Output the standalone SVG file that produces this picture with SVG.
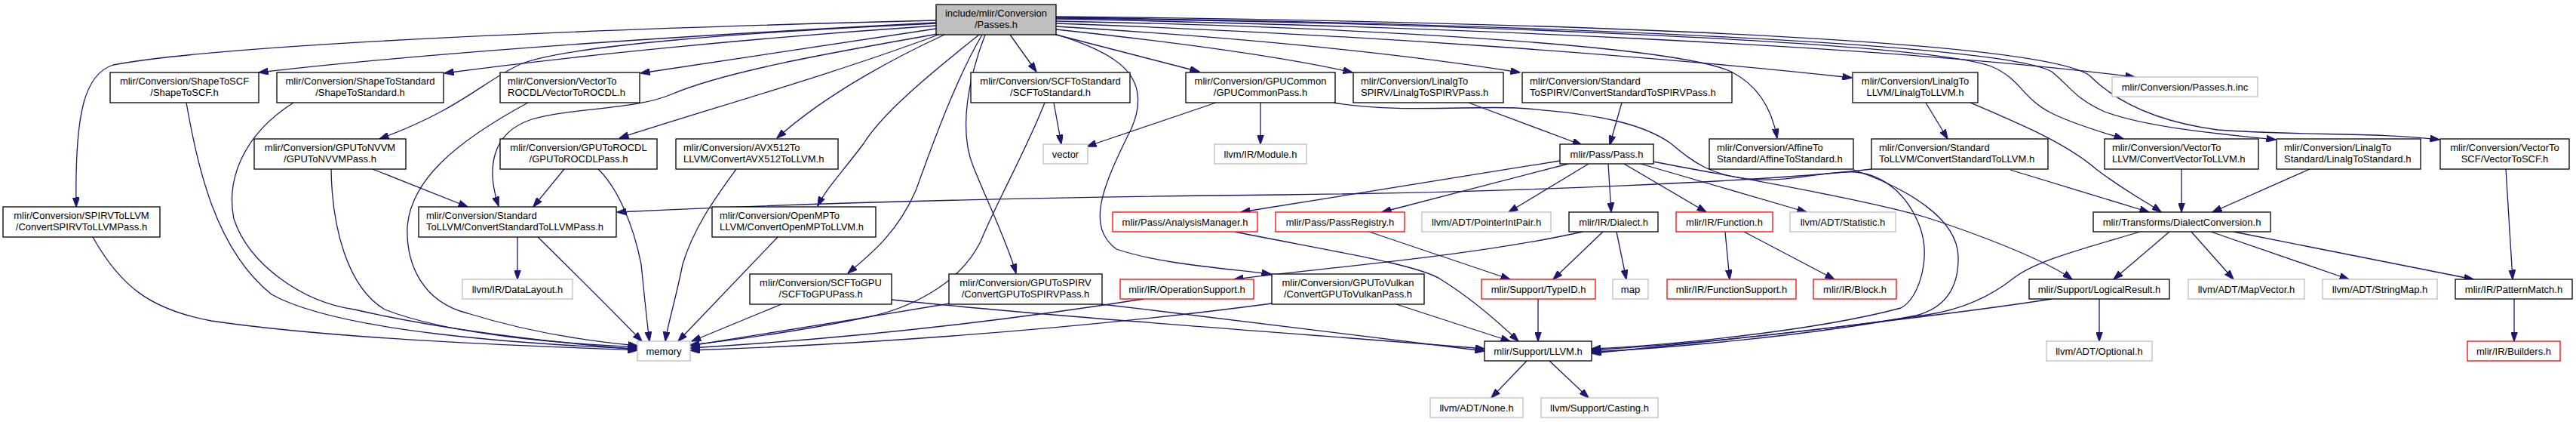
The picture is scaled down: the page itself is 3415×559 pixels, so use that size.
<svg xmlns="http://www.w3.org/2000/svg" width="3415" height="559" viewBox="0 0 3415 559">
<style>
text{font-family:"Liberation Sans",Arial,Helvetica,sans-serif;font-size:13px;fill:#000}
.node rect{fill:#fff;stroke:#000;stroke-width:1.3}
.node.g rect{stroke:#bfbfbf}
.node.r rect{stroke:#ff0000}
.node.top rect{fill:#bfbfbf}
.c text{text-anchor:middle}
#edges path{fill:none;stroke:#191970;stroke-width:1.3;marker-end:url(#ah)}
</style>
<defs>
<marker id="ah" viewBox="0 0 13 9" refX="12.5" refY="4.5" markerWidth="13" markerHeight="9" markerUnits="userSpaceOnUse" orient="auto">
<path d="M0,0 L13,4.5 L0,9 z" fill="#191970" stroke="#191970" stroke-width="1"/>
</marker>
</defs>
<rect width="3415" height="559" fill="#fff"/>
<g id="edges">
<path d="M1241,27 C800,38 300,58 150,86 C112,98 99,150 101,274"/>
<path d="M1241,30 C950,45 600,66 343,96"/>
<path d="M1241,34 C1000,50 760,74 589,97"/>
<path d="M1241,31 C1000,42 750,60 690,85 C640,108 610,145 503,184"/>
<path d="M1241,38 C1100,58 960,80 849,97"/>
<path d="M1243,45 C1100,70 960,95 890,125 C840,146 760,142 705,158 C650,176 645,225 661,273"/>
<path d="M1244,46 C1100,100 920,150 821,183"/>
<path d="M1252,46 C1200,70 1100,120 1030,183"/>
<path d="M1298,46 C1230,100 1170,150 1145,190 C1115,230 1095,250 1084,273"/>
<path d="M1302,46 C1270,100 1240,180 1215,250 C1190,310 1150,340 1124,362"/>
<path d="M1306,46 C1285,100 1270,170 1290,220 C1310,270 1335,320 1347,362"/>
<path d="M1339,46 L1374,95"/>
<path d="M1398,45 C1480,70 1530,100 1500,170 C1460,250 1440,300 1480,330 C1540,350 1620,355 1685,363"/>
<path d="M1400,46 L1590,95"/>
<path d="M1400,39 C1550,55 1700,75 1793,96"/>
<path d="M1400,35 C1650,50 1850,70 2015,96"/>
<path d="M1400,28 C1800,36 2220,60 2295,95 C2335,115 2350,150 2356,183"/>
<path d="M1400,31 C1800,45 2200,75 2455,103"/>
<path d="M1400,25 C1900,35 2500,60 2830,102"/>
<path d="M1400,24 C1900,30 2550,55 2640,88 C2680,105 2680,130 2720,150 C2750,165 2790,176 2815,184"/>
<path d="M1400,23 C1950,30 2650,55 2720,95 C2745,115 2750,130 2790,148 C2850,170 2950,178 3017,185"/>
<path d="M1400,22 C2000,28 2700,50 2770,100 C2800,130 2850,160 2940,172 C3050,180 3150,175 3234,185"/>
<path d="M247,136 C262,220 285,330 360,390 C450,440 700,456 845,462"/>
<path d="M389,136 C320,180 300,240 310,290 C330,350 400,400 470,410 C600,440 750,455 845,463"/>
<path d="M439,224 C440,300 460,380 510,410 C600,445 750,455 845,460"/>
<path d="M494,224 L620,274"/>
<path d="M700,136 C600,190 545,240 540,300 C538,350 560,400 620,415 C700,440 780,452 845,458"/>
<path d="M748,224 L707,274"/>
<path d="M793,224 C820,250 840,300 850,350 C855,400 858,430 861,452"/>
<path d="M976,224 C950,260 920,300 905,350 C895,400 885,430 882,452"/>
<path d="M1031,314 L899,452"/>
<path d="M123,314 C160,380 200,410 280,425 C450,450 700,458 845,464"/>
<path d="M686,314 L686,370"/>
<path d="M713,314 C770,370 820,420 851,452"/>
<path d="M1397,136 L1407,191"/>
<path d="M1385,136 C1360,200 1320,270 1300,320 C1270,380 1200,410 1150,420 C1080,435 980,450 915,457"/>
<path d="M1612,136 L1441,194"/>
<path d="M1671,136 L1671,191"/>
<path d="M1768,136 C1850,150 1950,140 2010,143 C2120,150 2180,165 2215,190 C2245,215 2270,235 2330,238 C2380,240 2420,226 2460,228 C2500,232 2530,260 2545,300 C2560,340 2545,395 2520,408 C2400,440 2200,458 2110,462"/>
<path d="M1036,403 L917,452"/>
<path d="M1182,397 C1400,420 1700,440 1968,462"/>
<path d="M1259,402 C1150,420 1000,445 915,458"/>
<path d="M1460,403 C1650,425 1850,450 1968,465"/>
<path d="M1516,396 C1300,430 1100,450 915,461"/>
<path d="M1686,402 C1400,440 1100,458 915,464"/>
<path d="M1851,403 L2002,452"/>
<path d="M1637,307 C1750,330 1880,350 1910,370 C1950,395 1990,430 2013,452"/>
<path d="M2068,213 C1900,240 1750,265 1645,281"/>
<path d="M2079,217 L1832,281"/>
<path d="M2106,217 L2000,281"/>
<path d="M2132,217 L2136,281"/>
<path d="M2153,217 L2262,281"/>
<path d="M2175,217 L2395,281"/>
<path d="M2191,214 C2300,235 2480,265 2560,290 C2650,320 2720,350 2747,370"/>
<path d="M1815,307 L2002,370"/>
<path d="M2125,307 L2059,370"/>
<path d="M2143,307 L2156,370"/>
<path d="M2098,307 C1950,340 1750,355 1636,370"/>
<path d="M2287,307 L2293,370"/>
<path d="M2312,307 L2432,370"/>
<path d="M2039,396 L2039,452"/>
<path d="M1947,136 L2097,192"/>
<path d="M2150,136 L2134,192"/>
<path d="M2457,225 C2530,250 2595,290 2596,340 C2597,390 2570,410 2540,418 C2400,445 2200,462 2110,466"/>
<path d="M2553,136 L2582,184"/>
<path d="M2612,136 C2680,165 2740,190 2780,225 C2820,255 2850,270 2865,281"/>
<path d="M2481,224 C2350,240 2000,255 1700,258 C1300,262 1000,272 818,281"/>
<path d="M2665,225 L2849,281"/>
<path d="M2892,224 L2892,281"/>
<path d="M3062,224 L2933,281"/>
<path d="M3322,224 L3331,370"/>
<path d="M2876,307 L2802,370"/>
<path d="M2905,307 L2961,370"/>
<path d="M2931,307 L3114,370"/>
<path d="M2961,307 L3279,370"/>
<path d="M2837,307 C2760,330 2700,345 2670,368 C2640,392 2600,410 2555,417 C2400,440 2250,455 2110,464"/>
<path d="M2783,396 L2783,452"/>
<path d="M2720,396 C2600,415 2300,450 2110,468"/>
<path d="M3333,396 L3333,452"/>
<path d="M2024,478 L1977,527"/>
<path d="M2054,478 L2106,527"/>
</g>
<g id="n_passes" class="node top c"><rect x="1241" y="6" width="159" height="40"/><text x="1320.5" y="22">include/mlir/Conversion</text><text x="1320.5" y="37">/Passes.h</text></g>
<g id="n_shapetoscf" class="node c"><rect x="146" y="96" width="197" height="40"/><text x="244.5" y="112">mlir/Conversion/ShapeToSCF</text><text x="244.5" y="127">/ShapeToSCF.h</text></g>
<g id="n_shapetostd" class="node c"><rect x="367" y="96" width="221" height="40"/><text x="477.5" y="112">mlir/Conversion/ShapeToStandard</text><text x="477.5" y="127">/ShapeToStandard.h</text></g>
<g id="n_vectorocdl" class="node"><rect x="663" y="96" width="185" height="40"/><text x="673" y="112">mlir/Conversion/VectorTo</text><text x="673" y="127">ROCDL/VectorToROCDL.h</text></g>
<g id="n_scftostd" class="node c"><rect x="1287" y="96" width="211" height="40"/><text x="1392.5" y="112">mlir/Conversion/SCFToStandard</text><text x="1392.5" y="127">/SCFToStandard.h</text></g>
<g id="n_gpucommon" class="node c"><rect x="1572" y="96" width="198" height="40"/><text x="1671" y="112">mlir/Conversion/GPUCommon</text><text x="1671" y="127">/GPUCommonPass.h</text></g>
<g id="n_linalgspirv" class="node"><rect x="1794" y="96" width="199" height="40"/><text x="1804" y="112">mlir/Conversion/LinalgTo</text><text x="1804" y="127">SPIRV/LinalgToSPIRVPass.h</text></g>
<g id="n_stdspirv" class="node"><rect x="2018" y="96" width="278" height="40"/><text x="2028" y="112">mlir/Conversion/Standard</text><text x="2028" y="127">ToSPIRV/ConvertStandardToSPIRVPass.h</text></g>
<g id="n_linalgllvm" class="node c"><rect x="2456" y="96" width="166" height="40"/><text x="2539" y="112">mlir/Conversion/LinalgTo</text><text x="2539" y="127">LLVM/LinalgToLLVM.h</text></g>
<g id="n_passesinc" class="node g c"><rect x="2800" y="102" width="193" height="26"/><text x="2896.5" y="120">mlir/Conversion/Passes.h.inc</text></g>
<g id="n_gpunvvm" class="node c"><rect x="337" y="184" width="201" height="40"/><text x="437.5" y="200">mlir/Conversion/GPUToNVVM</text><text x="437.5" y="215">/GPUToNVVMPass.h</text></g>
<g id="n_gpurocdl" class="node c"><rect x="663" y="184" width="208" height="40"/><text x="767" y="200">mlir/Conversion/GPUToROCDL</text><text x="767" y="215">/GPUToROCDLPass.h</text></g>
<g id="n_avx512" class="node"><rect x="896" y="184" width="215" height="40"/><text x="906" y="200">mlir/Conversion/AVX512To</text><text x="906" y="215">LLVM/ConvertAVX512ToLLVM.h</text></g>
<g id="n_vector" class="node g c"><rect x="1383" y="191" width="59" height="26"/><text x="1412.5" y="209">vector</text></g>
<g id="n_module" class="node g c"><rect x="1610" y="191" width="122" height="26"/><text x="1671" y="209">llvm/IR/Module.h</text></g>
<g id="n_pass" class="node c"><rect x="2068" y="191" width="124" height="26"/><text x="2130" y="209">mlir/Pass/Pass.h</text></g>
<g id="n_affinestd" class="node"><rect x="2266" y="184" width="191" height="40"/><text x="2276" y="200">mlir/Conversion/AffineTo</text><text x="2276" y="215">Standard/AffineToStandard.h</text></g>
<g id="n_convstdllvm" class="node"><rect x="2481" y="184" width="234" height="40"/><text x="2491" y="200">mlir/Conversion/Standard</text><text x="2491" y="215">ToLLVM/ConvertStandardToLLVM.h</text></g>
<g id="n_vecllvm" class="node"><rect x="2790" y="184" width="204" height="40"/><text x="2800" y="200">mlir/Conversion/VectorTo</text><text x="2800" y="215">LLVM/ConvertVectorToLLVM.h</text></g>
<g id="n_linalgstd" class="node"><rect x="3018" y="184" width="191" height="40"/><text x="3028" y="200">mlir/Conversion/LinalgTo</text><text x="3028" y="215">Standard/LinalgToStandard.h</text></g>
<g id="n_vecscf" class="node c"><rect x="3235" y="184" width="171" height="40"/><text x="3320.5" y="200">mlir/Conversion/VectorTo</text><text x="3320.5" y="215">SCF/VectorToSCF.h</text></g>
<g id="n_spirvllvm" class="node c"><rect x="4" y="274" width="208" height="40"/><text x="108" y="290">mlir/Conversion/SPIRVToLLVM</text><text x="108" y="305">/ConvertSPIRVToLLVMPass.h</text></g>
<g id="n_stdllvmpass" class="node"><rect x="555" y="274" width="262" height="40"/><text x="565" y="290">mlir/Conversion/Standard</text><text x="565" y="305">ToLLVM/ConvertStandardToLLVMPass.h</text></g>
<g id="n_openmp" class="node"><rect x="944" y="274" width="217" height="40"/><text x="954" y="290">mlir/Conversion/OpenMPTo</text><text x="954" y="305">LLVM/ConvertOpenMPToLLVM.h</text></g>
<g id="n_analysis" class="node r c"><rect x="1475" y="281" width="192" height="26"/><text x="1571" y="299">mlir/Pass/AnalysisManager.h</text></g>
<g id="n_passreg" class="node r c"><rect x="1691" y="281" width="171" height="26"/><text x="1776.5" y="299">mlir/Pass/PassRegistry.h</text></g>
<g id="n_pip" class="node g c"><rect x="1885" y="281" width="171" height="26"/><text x="1970.5" y="299">llvm/ADT/PointerIntPair.h</text></g>
<g id="n_dialect" class="node c"><rect x="2080" y="281" width="118" height="26"/><text x="2139" y="299">mlir/IR/Dialect.h</text></g>
<g id="n_function" class="node r c"><rect x="2222" y="281" width="128" height="26"/><text x="2286" y="299">mlir/IR/Function.h</text></g>
<g id="n_statistic" class="node g c"><rect x="2373" y="281" width="140" height="26"/><text x="2443" y="299">llvm/ADT/Statistic.h</text></g>
<g id="n_dialectconv" class="node c"><rect x="2775" y="281" width="235" height="26"/><text x="2892.5" y="299">mlir/Transforms/DialectConversion.h</text></g>
<g id="n_datalayout" class="node g c"><rect x="613" y="370" width="146" height="26"/><text x="686" y="388">llvm/IR/DataLayout.h</text></g>
<g id="n_scfgpu" class="node c"><rect x="994" y="363" width="188" height="40"/><text x="1088" y="379">mlir/Conversion/SCFToGPU</text><text x="1088" y="394">/SCFToGPUPass.h</text></g>
<g id="n_gpuspirv" class="node c"><rect x="1258" y="363" width="203" height="40"/><text x="1359.5" y="379">mlir/Conversion/GPUToSPIRV</text><text x="1359.5" y="394">/ConvertGPUToSPIRVPass.h</text></g>
<g id="n_opsupport" class="node r c"><rect x="1485" y="370" width="177" height="26"/><text x="1573.5" y="388">mlir/IR/OperationSupport.h</text></g>
<g id="n_gpuvulkan" class="node c"><rect x="1686" y="363" width="202" height="40"/><text x="1787" y="379">mlir/Conversion/GPUToVulkan</text><text x="1787" y="394">/ConvertGPUToVulkanPass.h</text></g>
<g id="n_typeid" class="node r c"><rect x="1964" y="370" width="151" height="26"/><text x="2039.5" y="388">mlir/Support/TypeID.h</text></g>
<g id="n_map" class="node g c"><rect x="2138" y="370" width="47" height="26"/><text x="2161.5" y="388">map</text></g>
<g id="n_funcsupport" class="node r c"><rect x="2210" y="370" width="171" height="26"/><text x="2295.5" y="388">mlir/IR/FunctionSupport.h</text></g>
<g id="n_block" class="node r c"><rect x="2404" y="370" width="110" height="26"/><text x="2459" y="388">mlir/IR/Block.h</text></g>
<g id="n_logical" class="node c"><rect x="2690" y="370" width="186" height="26"/><text x="2783" y="388">mlir/Support/LogicalResult.h</text></g>
<g id="n_mapvector" class="node g c"><rect x="2901" y="370" width="154" height="26"/><text x="2978" y="388">llvm/ADT/MapVector.h</text></g>
<g id="n_stringmap" class="node g c"><rect x="3079" y="370" width="152" height="26"/><text x="3155" y="388">llvm/ADT/StringMap.h</text></g>
<g id="n_pattern" class="node c"><rect x="3255" y="370" width="155" height="26"/><text x="3332.5" y="388">mlir/IR/PatternMatch.h</text></g>
<g id="n_memory" class="node g c"><rect x="845" y="452" width="70" height="26"/><text x="880" y="470">memory</text></g>
<g id="n_llvm" class="node c"><rect x="1968" y="452" width="142" height="26"/><text x="2039" y="470">mlir/Support/LLVM.h</text></g>
<g id="n_optional" class="node g c"><rect x="2713" y="452" width="140" height="26"/><text x="2783" y="470">llvm/ADT/Optional.h</text></g>
<g id="n_builders" class="node r c"><rect x="3271" y="452" width="123" height="26"/><text x="3332.5" y="470">mlir/IR/Builders.h</text></g>
<g id="n_none" class="node g c"><rect x="1896" y="527" width="123" height="26"/><text x="1957.5" y="545">llvm/ADT/None.h</text></g>
<g id="n_casting" class="node g c"><rect x="2043" y="527" width="155" height="26"/><text x="2120.5" y="545">llvm/Support/Casting.h</text></g>
</svg>
